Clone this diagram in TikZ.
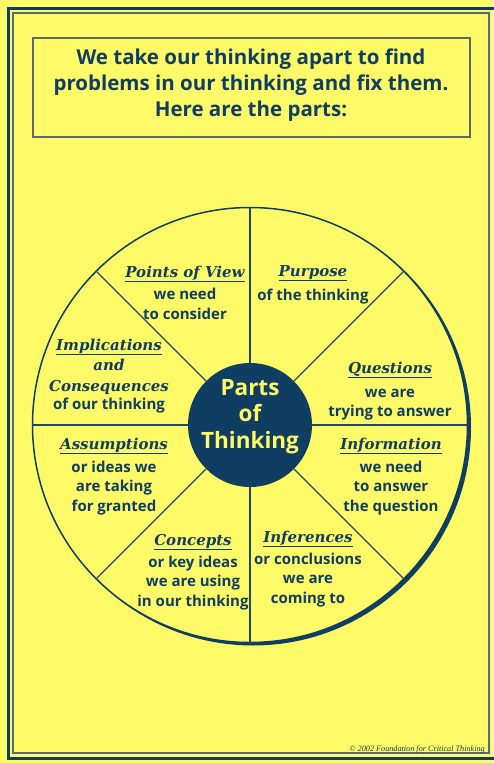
\documentclass[tikz,border=0pt]{standalone}
\usepackage{fontspec}
\setmainfont{Liberation Serif}
\setsansfont{Open Sans}
\newfontfamily\headfont{DejaVu Serif}
\definecolor{paper}{RGB}{255,250,104}
\definecolor{ink}{RGB}{16,62,98}
\definecolor{rule}{RGB}{92,106,110}

\begin{document}
\begin{tikzpicture}
    [x=1pt, y=-1pt, inner sep=0pt,
    part/.style={font=\headfont\bfseries\itshape\fontsize{15}{20.5}\selectfont, text=ink, anchor=base, align=center},
    note/.style={font=\sffamily\bfseries\fontsize{15}{19.5}\selectfont, text=ink, anchor=base, align=center},
    spoke/.style={draw=ink!85!gray, line width=1.1pt}]

\useasboundingbox (0,0) rectangle (493,763);
\fill[paper] (0,0) rectangle (493,763);
\draw[ink, line width=3pt] (8,8) rectangle (500,758);
\draw[rule, line width=1.8pt] (13,13) rectangle (489,753);

\node[draw=rule, line width=2pt, minimum width=437pt, minimum height=99pt] (titlebox) at (251.5,87.5) {};
\node[font=\sffamily\bfseries\fontsize{20.5}{26}\selectfont, text=ink, align=center, anchor=base] (title) at (251,116.5)
    {We take our thinking apart to find\\problems in our thinking and fix them.\\Here are the parts:};

\fill[ink] (253,427.5) circle[radius=218];
\node[circle, draw=ink, line width=1.5pt, fill=paper, minimum size=435pt] (wheel) at (250,425) {};
\node[circle, fill=ink, minimum size=124pt] (hub) at (250,425) {};
\node[text=paper, align=center, anchor=base,
    font=\sffamily\bfseries\fontsize{22.5}{26.5}\selectfont] (hubtext) at (250,448) {Parts\\of\\Thinking};
\foreach \a in {0,45,...,315}
    \draw[spoke] (hub.\a) -- (wheel.\a);

\node[part] (view) at (185,277) {\underline{Points of View}};
\node[note] (viewtext) at (185,319) {we need\\to consider};
\node[part] (purpose) at (313,276) {\underline{Purpose}};
\node[note] (purposetext) at (313,300) {of the thinking};
\node[part] (questions) at (390,373) {\underline{Questions}};
\node[note] (questionstext) at (390,416.5) {we are\\trying to answer};
\node[part] (implications) at (109,391) {\underline{Implications}\\and\\Consequences};
\node[note] (implicationstext) at (109,409) {of our thinking};
\node[part] (assumptions) at (114,449) {\underline{Assumptions}};
\node[note] (assumptionstext) at (114,511) {or ideas we\\are taking\\for granted};
\node[part] (concepts) at (193,545) {\underline{Concepts}};
\node[note] (conceptstext) at (193,606) {or key ideas\\we are using\\in our thinking};
\node[part] (information) at (391,449) {\underline{Information}};
\node[note] (informationtext) at (391,511) {we need\\to answer\\the question};
\node[part] (inferences) at (308,542) {\underline{Inferences}};
\node[note] (inferencestext) at (308,603) {or conclusions\\we are\\coming to};

\node[font=\rmfamily\itshape\fontsize{8.2}{9}\selectfont, text=ink, anchor=base east] (copyright) at (485,751)
    {\textcopyright\ 2002 Foundation for Critical Thinking};
\end{tikzpicture}
\end{document}
